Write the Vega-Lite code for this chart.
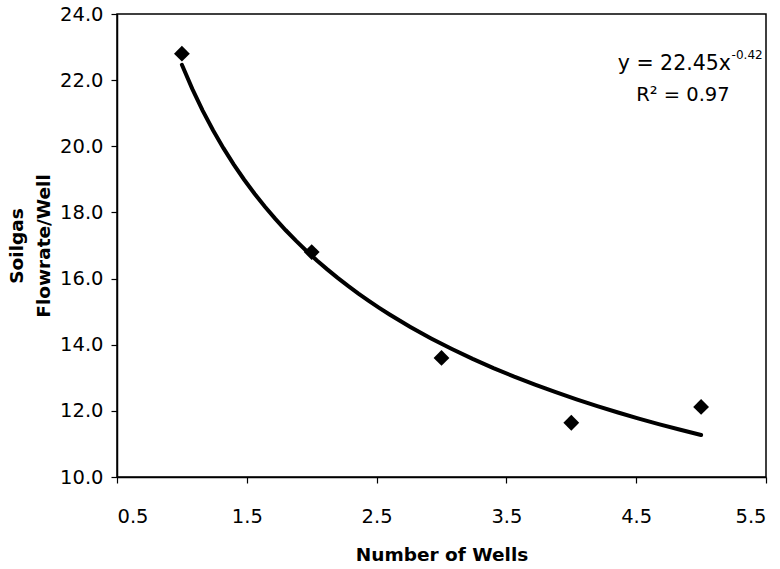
{
  "$schema": "https://vega.github.io/schema/vega-lite/v6.json",
  "width": 649,
  "height": 463,
  "autosize": {"type": "none"},
  "padding": {"left": 117, "top": 14, "right": 14, "bottom": 92},
  "background": "white",
  "config": {
    "font": "DejaVu Sans",
    "view": {"stroke": "black", "strokeWidth": 1.5},
    "axis": {
      "grid": false,
      "domainColor": "black",
      "domainWidth": 1.5,
      "tickColor": "black",
      "tickWidth": 1.2,
      "tickSize": 6,
      "labelColor": "black",
      "labelFont": "DejaVu Sans",
      "labelFontSize": 19.5,
      "titleColor": "black",
      "titleFont": "DejaVu Sans",
      "titleFontSize": 18.5,
      "titleFontWeight": "bold"
    }
  },
  "datasets": {
    "points": [
      {"wells": 1, "flow": 22.8},
      {"wells": 2, "flow": 16.8},
      {"wells": 3, "flow": 13.6},
      {"wells": 4, "flow": 11.64},
      {"wells": 5, "flow": 12.12}
    ],
    "eqMain": [{"x": 5.23, "y": 22.49, "t": "y = 22.45x"}],
    "eqSup": [{"x": 5.235, "y": 22.76, "t": "-0.42"}],
    "eqR": [{"x": 4.86, "y": 21.56, "t": "R² = 0.97"}]
  },
  "encoding": {
    "x": {
      "field": "wells",
      "type": "quantitative",
      "scale": {"domain": [0.5, 5.5], "nice": false, "zero": false},
      "axis": {
        "title": "Number of Wells",
        "values": [0.5, 1.5, 2.5, 3.5, 4.5, 5.5],
        "format": ".1f",
        "labelPadding": 24,
        "titlePadding": 20
      }
    },
    "y": {
      "field": "flow",
      "type": "quantitative",
      "scale": {"domain": [10, 24], "nice": false, "zero": false},
      "axis": {
        "title": ["Soilgas", "Flowrate/Well"],
        "titleLineHeight": 27,
        "values": [10, 12, 14, 16, 18, 20, 22, 24],
        "format": ".1f",
        "labelPadding": 8,
        "titlePadding": 6
      }
    }
  },
  "layer": [
    {
      "data": {"name": "points"},
      "transform": [{"regression": "flow", "on": "wells", "method": "pow"}],
      "mark": {"type": "line", "color": "black", "strokeWidth": 4, "strokeCap": "round"}
    },
    {
      "data": {"name": "points"},
      "mark": {"type": "point", "shape": "diamond", "filled": true, "color": "black", "size": 250, "opacity": 1}
    },
    {
      "data": {"name": "eqMain"},
      "mark": {"type": "text", "align": "right", "baseline": "middle", "fontSize": 20.5, "color": "black", "font": "DejaVu Sans"},
      "encoding": {
        "x": {"field": "x", "type": "quantitative"},
        "y": {"field": "y", "type": "quantitative"},
        "text": {"field": "t"}
      }
    },
    {
      "data": {"name": "eqSup"},
      "mark": {"type": "text", "align": "left", "baseline": "middle", "fontSize": 12, "color": "black", "font": "DejaVu Sans"},
      "encoding": {
        "x": {"field": "x", "type": "quantitative"},
        "y": {"field": "y", "type": "quantitative"},
        "text": {"field": "t"}
      }
    },
    {
      "data": {"name": "eqR"},
      "mark": {"type": "text", "align": "center", "baseline": "middle", "fontSize": 19.5, "color": "black", "font": "DejaVu Sans"},
      "encoding": {
        "x": {"field": "x", "type": "quantitative"},
        "y": {"field": "y", "type": "quantitative"},
        "text": {"field": "t"}
      }
    }
  ]
}
